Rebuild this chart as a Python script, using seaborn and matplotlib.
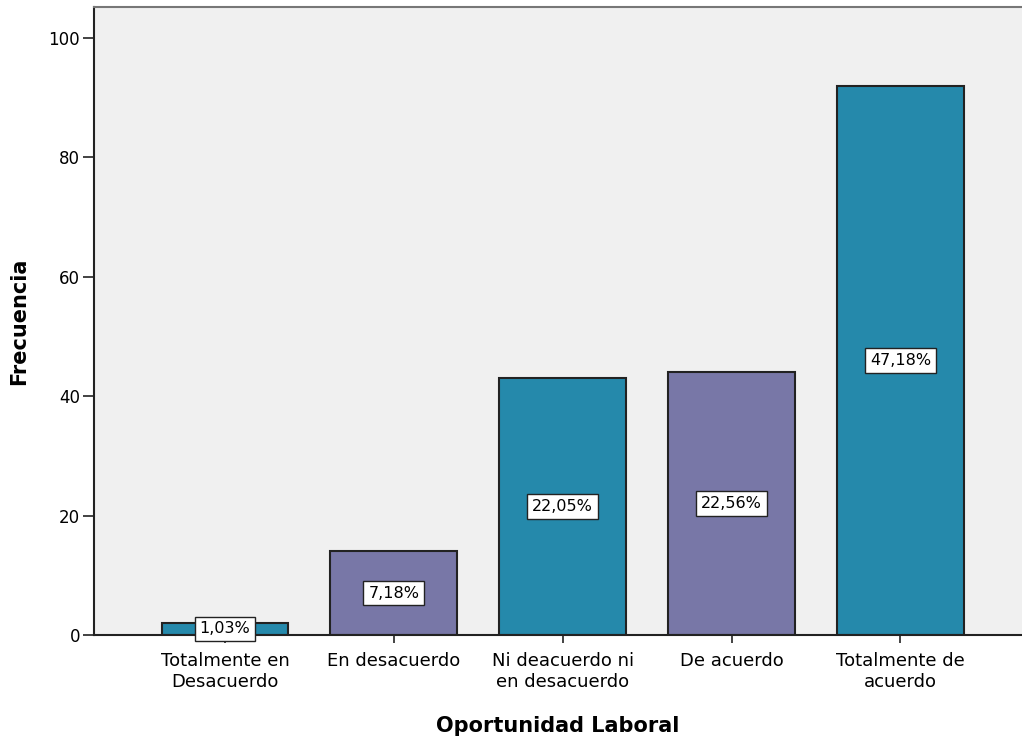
import matplotlib
matplotlib.use("Agg")
import matplotlib.pyplot as plt
import seaborn as sns
import pandas as pd

categorias = ['Totalmente en\nDesacuerdo', 'En desacuerdo', 'Ni deacuerdo ni\nen desacuerdo',
              'De acuerdo', 'Totalmente de\nacuerdo']
frecuencias = [2, 14, 43, 44, 92]
porcentajes = ['1,03%', '7,18%', '22,05%', '22,56%', '47,18%']
colores = ['#2589AB', '#7877A7', '#2589AB', '#7877A7', '#2589AB']

sns.set_theme(style="white")
plt.rcParams['font.family'] = ['DejaVu Sans']
plt.rcParams['text.color'] = 'black'
plt.rcParams['axes.labelcolor'] = 'black'
plt.rcParams['xtick.color'] = '#222222'
plt.rcParams['ytick.color'] = '#222222'

df = pd.DataFrame({'cat': categorias, 'freq': frecuencias})

fig = plt.figure(figsize=(10.22, 7.45), dpi=100)
ax = fig.add_axes([0.092, 0.1477, 0.908, 0.843])
ax.set_facecolor('#F0F0F0')

sns.barplot(data=df, x='cat', y='freq', hue='cat', palette=colores, legend=False,
            width=0.75, edgecolor='#222222', linewidth=1.5, saturation=1, ax=ax)

for i, (f, p) in enumerate(zip(frecuencias, porcentajes)):
    ax.text(i, f / 2, p, ha='center', va='center', fontsize=11.5, color='black',
            bbox=dict(boxstyle='square,pad=0.3', facecolor='white', edgecolor='#222222', linewidth=1))

ax.set_xlim(-0.775, 4.72)
ax.set_ylim(0, 105.2)
ax.set_yticks([0, 20, 40, 60, 80, 100])
ax.tick_params(axis='y', left=True, direction='out', length=8, width=1.2, labelsize=12, pad=2,
               labelcolor='black')
ax.tick_params(axis='x', bottom=True, direction='out', length=6, width=1.2, labelsize=13, pad=6,
               labelcolor='black')
for lbl in ax.get_xticklabels():
    lbl.set_linespacing(1.25)
ax.set_xlabel('Oportunidad Laboral', fontsize=15, fontweight='bold', labelpad=18)
ax.set_ylabel('Frecuencia', fontsize=15, fontweight='bold', labelpad=14)

for s in ['left', 'bottom']:
    ax.spines[s].set_color('#222222')
    ax.spines[s].set_linewidth(1.5)
ax.spines['top'].set_color('#777777')
ax.spines['top'].set_linewidth(1.5)
ax.spines['right'].set_visible(False)

fig.savefig('out.png', dpi=100)
